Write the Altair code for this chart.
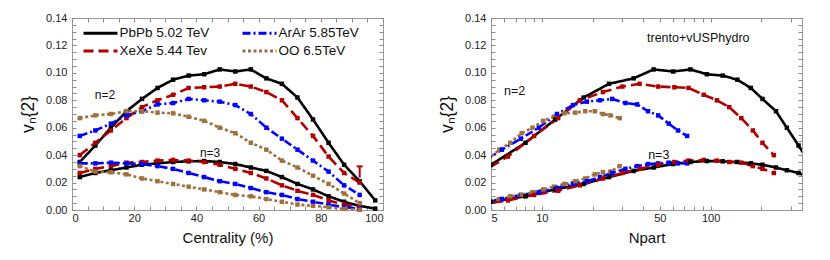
import altair as alt
import pandas as pd

# ---------------- data ----------------
systems = ["PbPb 5.02 TeV", "XeXe 5.44 Tev", "ArAr 5.85TeV", "OO 6.5TeV"]
colors = ["#000000", "#b00000", "#0000ff", "#a0703c"]
dashes = [[1, 0], [10, 5], [8, 3, 2, 3], [3, 2.5]]

cent = [2.5, 7.5, 12.5, 17.5, 22.5, 27.5, 32.5, 37.5, 42.5, 47.5,
        52.5, 57.5, 62.5, 67.5, 72.5, 77.5, 82.5, 87.5, 92.5, 97.5]

pbpb_npart = [383, 332, 283, 244, 203, 173, 144, 118, 95, 76, 60, 46, 35, 25, 17.7, 12.0, 8.0, 5.0, 3.2, 2.2]
pbpb_v2 = [0.035, 0.047, 0.060, 0.072, 0.081, 0.089, 0.095, 0.098, 0.099, 0.1025,
           0.101, 0.1025, 0.096, 0.092, 0.082, 0.066, 0.049, 0.033, 0.021, 0.007]
pbpb_v3 = [0.024, 0.027, 0.029, 0.031, 0.033, 0.034, 0.035, 0.0355, 0.0357, 0.035,
           0.0335, 0.031, 0.0285, 0.024, 0.019, 0.015, 0.010, 0.006, 0.003, 0.001]

xexe_npart = [237, 203, 178, 152, 129, 109, 91, 74, 61, 49, 38, 30, 23, 16.8, 12.5, 9.0, 6.3, 4.3, 2.8]
xexe_v2 = [0.040, 0.049, 0.058, 0.067, 0.075, 0.080, 0.084, 0.089, 0.0895, 0.090,
           0.092, 0.090, 0.086, 0.080, 0.067, 0.054, 0.039, 0.027, 0.020]
xexe_v3 = [0.027, 0.030, 0.032, 0.0345, 0.035, 0.036, 0.0365, 0.036, 0.035, 0.033,
           0.030, 0.027, 0.023, 0.018, 0.014, 0.011, 0.007, 0.004, 0.002]

arar_npart = [72.6, 64.1, 56.5, 48.9, 42.6, 36.7, 31.3, 26.1, 22.1, 18.5, 15.3, 12.3, 9.6, 7.5, 5.8, 4.6, 3.6, 2.8, 2.2]
arar_v2 = [0.054, 0.058, 0.063, 0.069, 0.072, 0.077, 0.078, 0.081, 0.080, 0.079,
           0.0765, 0.070, 0.060, 0.052, 0.044, 0.036, 0.028, 0.018, 0.011]
arar_v3 = [0.034, 0.034, 0.0345, 0.034, 0.0335, 0.032, 0.030, 0.027, 0.024, 0.021,
           0.019, 0.016, 0.013, 0.011, 0.008, 0.006, 0.004, 0.002, 0.001]

oo_npart = [28.9, 25.5, 23.0, 20.6, 18.1, 15.8, 13.6, 11.8, 10.2, 8.8, 7.6, 6.5, 5.6, 4.7, 4.0, 3.4, 2.9, 2.5, 2.2]
oo_v2 = [0.067, 0.069, 0.070, 0.072, 0.072, 0.071, 0.0705, 0.068, 0.065, 0.060,
         0.056, 0.049, 0.044, 0.036, 0.031, 0.025, 0.019, 0.012, 0.005]
oo_v3 = [0.032, 0.028, 0.0275, 0.026, 0.023, 0.021, 0.019, 0.017, 0.015, 0.013,
         0.011, 0.010, 0.008, 0.006, 0.004, 0.003, 0.002, 0.0008, 0.0002]

# XeXe error bar (last point)
err_cent = [92.5]
err_lo = [0.0236]
err_hi = [0.0318]

# axis ticks: labelled (major) values and unlabelled (minor) ones
y_major = [0.0, 0.02, 0.04, 0.06, 0.08, 0.10, 0.12, 0.14]
y_minor = [round(0.005 * k, 3) for k in range(29)]
xl_major = [0, 20, 40, 60, 80, 100]
xl_minor = [5 * k for k in range(21)]
xr_major = [5, 10, 50, 100]
xr_minor = [5, 6, 7, 8, 9, 10, 20, 30, 40, 50, 60, 70, 80, 90, 100, 200, 300]

left_labels = ["n=2", "n=3"]
left_label_x = [10.6, 44.4]
left_label_y = [0.0838, 0.0418]
right_labels = ["n=2", "n=3", "trento+vUSPhydro"]
right_label_x = [6.9, 49.3, 84.5]
right_label_y = [0.0868, 0.0401, 0.1257]

# ---------------- table ----------------
series = {
    "PbPb 5.02 TeV": (pbpb_npart, pbpb_v2, pbpb_v3),
    "XeXe 5.44 Tev": (xexe_npart, xexe_v2, xexe_v3),
    "ArAr 5.85TeV": (arar_npart, arar_v2, arar_v3),
    "OO 6.5TeV": (oo_npart, oo_v2, oo_v3),
}
rows = []
for name, (npart, v2, v3) in series.items():
    for i in range(len(v2)):
        rows.append(dict(system=name, n="2", cent=cent[i], npart=npart[i], v=v2[i]))
        rows.append(dict(system=name, n="3", cent=cent[i], npart=npart[i], v=v3[i]))
df = pd.DataFrame(rows)

df_err = pd.DataFrame(dict(cent=err_cent, lo=err_lo, hi=err_hi))
df_ltxt = pd.DataFrame(dict(t=left_labels, x=left_label_x, y=left_label_y))
df_rtxt = pd.DataFrame(dict(t=right_labels, x=right_label_x, y=right_label_y))

FONT = "Liberation Sans"
W, H = 311, 192
TICK = "#8a8a8a"

y_scale = alt.Scale(domain=[0, 0.14], nice=False, zero=False)
xl_scale = alt.Scale(domain=[0, 100], nice=False)
xr_scale = alt.Scale(type="log", domain=[5, 348], nice=False)


def in_list(vals):
    return "indexof([" + ",".join(str(v) for v in vals) + "], datum.value) >= 0"


y_lbl = "abs(datum.value * 50 - round(datum.value * 50)) < 0.001 ? format(datum.value, '.2f') : ''"


def y_axis():
    return alt.Axis(values=y_minor, labelExpr=y_lbl, grid=False, domain=False,
                    offset=-4, tickSize=4, tickColor=TICK, labelOverlap=False,
                    labelPadding=5, labelFontSize=11, labelColor="#222222",
                    title="vₙ{2}", titleFontSize=17.5, titleFontWeight="normal",
                    titleColor="#111111", titlePadding=8)


def xl_axis():
    return alt.Axis(values=xl_minor, labelExpr=in_list(xl_major) + " ? datum.label : ''",
                    grid=False, domain=False, offset=-4,
                    tickSize=4, tickColor=TICK, labelPadding=2, labelOverlap=False,
                    labelFontSize=11, labelColor="#222222",
                    title="Centrality (%)", titleFontSize=15,
                    titleFontWeight="normal", titleColor="#111111", titlePadding=7)


def xr_axis():
    return alt.Axis(values=xr_minor, labelExpr=in_list(xr_major) + " ? format(datum.value, 'd') : ''",
                    grid=False, domain=False, offset=-4,
                    tickSize=4, tickColor=TICK, labelPadding=2, labelOverlap=False,
                    labelFontSize=11, labelColor="#222222",
                    title="Npart", titleFontSize=15,
                    titleFontWeight="normal", titleColor="#111111", titlePadding=7)


def frame_axis(orient, vals):
    return alt.Axis(orient=orient, values=vals, labels=False, title=None, grid=False,
                    domain=False, offset=-4, tickSize=4, tickColor=TICK)


color_scale = alt.Scale(domain=systems, range=colors)
dash_scale = alt.Scale(domain=systems, range=dashes)

# legend sample line: a horizontal path twice as wide as the symbol's nominal box
legend = alt.Legend(orient="none", legendX=18.5, legendY=5, columns=2, title=None,
                    symbolType="M-2,0H2", symbolSize=289, symbolStrokeWidth=3,
                    symbolFillColor="transparent",
                    labelFontSize=13.5, labelFont=FONT, labelColor="#111111",
                    columnPadding=26, rowPadding=1, labelOffset=9, padding=0,
                    symbolOpacity=1)

point_def = alt.OverlayMarkDef(shape="square", size=20, filled=True, opacity=1)

# ---------------- left panel ----------------
left_lines = alt.Chart(df).mark_line(strokeWidth=2.6, point=point_def).encode(
    x=alt.X("cent:Q", scale=xl_scale, axis=xl_axis()),
    y=alt.Y("v:Q", scale=y_scale, axis=y_axis()),
    color=alt.Color("system:N", scale=color_scale, legend=legend),
    strokeDash=alt.StrokeDash("system:N", scale=dash_scale, legend=legend),
    detail="n:N",
    order=alt.Order("cent:Q"),
)

left_err = alt.Chart(df_err).mark_rule(color="#b00000", strokeWidth=2).encode(
    x=alt.X("cent:Q", scale=xl_scale, axis=xl_axis()),
    y=alt.Y("lo:Q", scale=y_scale, axis=y_axis()), y2="hi:Q")

left_cap = alt.Chart(df_err).mark_point(shape="M-1,0L1,0", size=36, filled=False,
                                        color="#b00000", strokeWidth=2, opacity=1).encode(
    x=alt.X("cent:Q", scale=xl_scale, axis=xl_axis()),
    y=alt.Y("hi:Q", scale=y_scale, axis=y_axis()))

left_text = alt.Chart(df_ltxt).mark_text(fontSize=12, font=FONT, color="#111111").encode(
    x=alt.X("x:Q", scale=xl_scale, axis=xl_axis()),
    y=alt.Y("y:Q", scale=y_scale, axis=y_axis()),
    text="t:N")

left_main = alt.layer(left_lines, left_err, left_cap, left_text)

left_frame = alt.Chart(df_ltxt).mark_text(opacity=0).encode(
    x=alt.X("x:Q", scale=xl_scale, axis=frame_axis("top", xl_minor)),
    y=alt.Y("y:Q", scale=y_scale, axis=frame_axis("right", y_minor)),
    text="t:N")

left = alt.layer(left_main, left_frame).resolve_axis(
    x="independent", y="independent").properties(width=W, height=H)

# ---------------- right panel ----------------
right_lines = alt.Chart(df).mark_line(strokeWidth=2.6, point=point_def, clip=True).encode(
    x=alt.X("npart:Q", scale=xr_scale, axis=xr_axis()),
    y=alt.Y("v:Q", scale=y_scale, axis=y_axis()),
    color=alt.Color("system:N", scale=color_scale, legend=None),
    strokeDash=alt.StrokeDash("system:N", scale=dash_scale, legend=None),
    detail="n:N",
    order=alt.Order("npart:Q"),
)

right_text = alt.Chart(df_rtxt).mark_text(fontSize=12.5, font=FONT, color="#111111").encode(
    x=alt.X("x:Q", scale=xr_scale, axis=xr_axis()),
    y=alt.Y("y:Q", scale=y_scale, axis=y_axis()),
    text="t:N")

right_main = alt.layer(right_lines, right_text)

right_frame = alt.Chart(df_rtxt).mark_text(opacity=0).encode(
    x=alt.X("x:Q", scale=xr_scale, axis=frame_axis("top", xr_minor)),
    y=alt.Y("y:Q", scale=y_scale, axis=frame_axis("right", y_minor)),
    text="t:N")

right = alt.layer(right_main, right_frame).resolve_axis(
    x="independent", y="independent").properties(width=W, height=H)

chart = alt.hconcat(left, right, spacing=108, bounds="flush").resolve_scale(
    color="independent", strokeDash="independent"
).properties(
    padding={"left": 11, "top": 3, "right": 5, "bottom": 5}
).configure_view(
    stroke="#999999", strokeWidth=1
).configure_axis(
    labelFont=FONT, titleFont=FONT
)

chart.save("out.html", embed_options={"renderer": "svg", "actions": False})
